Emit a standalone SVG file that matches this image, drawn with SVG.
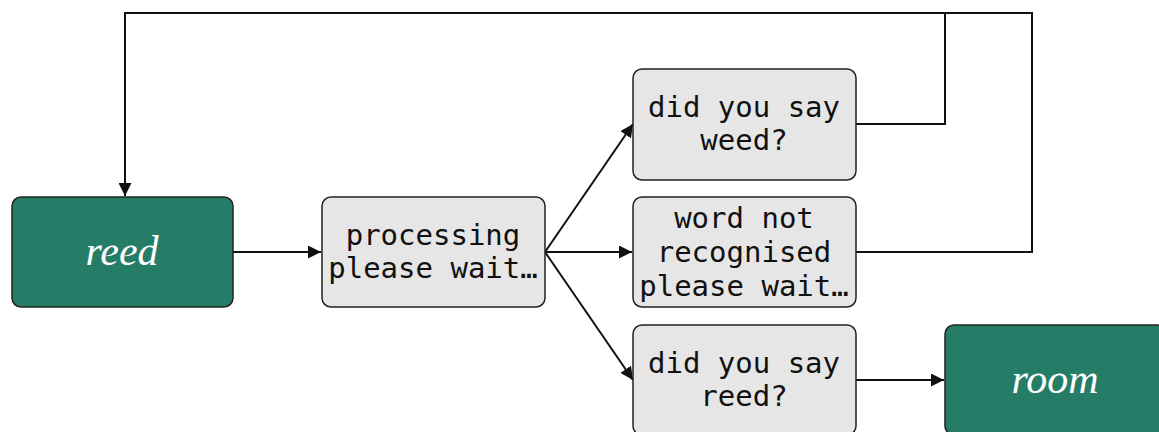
<svg xmlns="http://www.w3.org/2000/svg" width="1159" height="432" viewBox="0 0 1159 432">
<style>
.g rect{fill:#e6e6e6;stroke:#222;stroke-width:1.5}
.s rect{fill:#267d67;stroke:#222;stroke-width:1.5}
.g text{font-family:"DejaVu Sans Mono",monospace;font-size:29px;fill:#111;text-anchor:middle}
.s text{font-family:"Liberation Serif",serif;font-style:italic;font-size:42px;fill:#fff;text-anchor:middle}
.c path{fill:none;stroke:#111;stroke-width:2}
</style>
<defs>
<marker id="ah" viewBox="0 0 10 10" refX="10" refY="5" markerWidth="6.5" markerHeight="6.5" markerUnits="strokeWidth" orient="auto">
<path d="M0,0 L10,5 L0,10 z" fill="#111"/>
</marker>
</defs>
<g class="c">
<path d="M233,252 H321" marker-end="url(#ah)"/>
<path d="M545,252 L633,124" marker-end="url(#ah)"/>
<path d="M545,252 H632" marker-end="url(#ah)"/>
<path d="M545,252 L633,380" marker-end="url(#ah)"/>
<path d="M856,380 H944" marker-end="url(#ah)"/>
<path d="M856,124 H945 V13"/>
<path d="M856,252 H1032 V13 H125 V196" marker-end="url(#ah)"/>
</g>
<g id="reed" class="s"><rect x="12" y="197" width="221" height="110" rx="9"/><text x="122" y="265">reed</text></g>
<g id="processing" class="g"><rect x="322" y="197" width="223" height="110" rx="9"/><text x="433" y="245">processing</text><text x="433" y="278">please wait…</text></g>
<g id="weed" class="g"><rect x="633" y="69" width="223" height="111" rx="9"/><text x="744" y="117">did you say</text><text x="744" y="150">weed?</text></g>
<g id="notrec" class="g"><rect x="633" y="197" width="223" height="110" rx="9"/><text x="744" y="228">word not</text><text x="744" y="262">recognised</text><text x="744" y="296">please wait…</text></g>
<g id="reedq" class="g"><rect x="633" y="325" width="223" height="110" rx="9"/><text x="744" y="373">did you say</text><text x="744" y="406">reed?</text></g>
<g id="room" class="s"><rect x="945" y="325" width="221" height="110" rx="9"/><text x="1055" y="393">room</text></g>
</svg>
